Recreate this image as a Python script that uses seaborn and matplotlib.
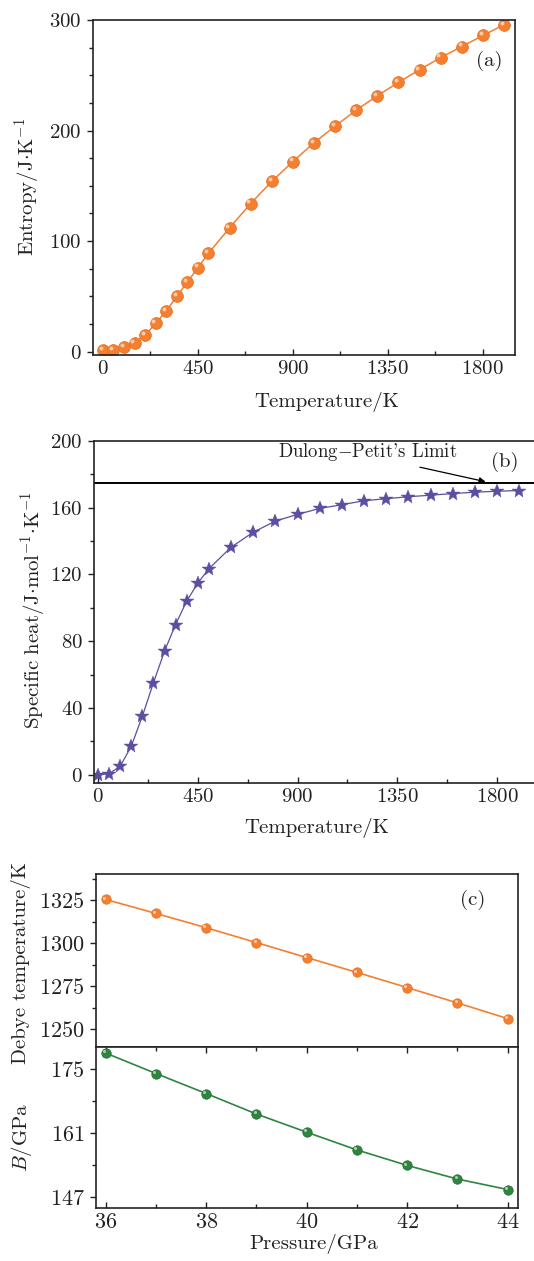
import numpy as np
import matplotlib
matplotlib.use("Agg")
import matplotlib.pyplot as plt
import matplotlib.transforms as mtransforms
from matplotlib.ticker import MultipleLocator
import seaborn as sns

# --- data ---
temp = [0, 50, 100, 150, 200, 250, 300, 350, 400, 450, 500,
        600, 700, 800, 900, 1000, 1100, 1200, 1300, 1400, 1500,
        1600, 1700, 1800, 1900]
entropy = [1.5, 1.5, 4, 8, 15, 25.5, 37, 50, 63, 76, 89,
           112, 134, 154, 172, 189, 204, 218.5, 231.5, 243.6, 255,
           266, 276, 286, 295.7]
cv = [0, 0.6, 5, 17, 35, 55, 74, 90, 104, 114.8, 123.4,
      136.3, 145.3, 152, 156, 159.6, 161.8, 164.2, 165.4, 166.6, 167.5,
      168.5, 169.3, 169.9, 170.3]
dulong_petit = 174.6

pressure = [36, 37, 38, 39, 40, 41, 42, 43, 44]
debye_t = [1325.4, 1317.3, 1309.0, 1300.4, 1291.7, 1283.1, 1274.3, 1265.4, 1256.3]
bulk_mod = [178.6, 174.1, 169.7, 165.2, 161.2, 157.3, 153.9, 150.9, 148.6]

orange = "#F47F30"
purple = "#5A4FA0"
green = "#2E8540"

sns.set_style("ticks")
plt.rcParams["font.family"] = ["cmr10", "DejaVu Serif"]
plt.rcParams["mathtext.fontset"] = "cm"
plt.rcParams["axes.formatter.use_mathtext"] = True
plt.rcParams["axes.unicode_minus"] = False
plt.rcParams["axes.linewidth"] = 1.2
plt.rcParams["text.color"] = "#222222"
plt.rcParams["xtick.color"] = "#222222"
plt.rcParams["ytick.color"] = "#222222"

W, H = 534, 1261
fig = plt.figure(figsize=(W / 100, H / 100), dpi=100)


def box(l, r, t, b):
    return [l / W, 1 - b / H, (r - l) / W, (b - t) / H]


def ftext(x, y, s, **kw):
    fig.text(x / W, 1 - y / H, s, ha="center", va="center", **kw)


def style(ax, fs=15):
    ax.tick_params(which="both", labelsize=fs, width=1.0)
    ax.tick_params(axis="x", which="both", direction="in", top=False)
    ax.tick_params(axis="y", which="both", direction="out", right=False)
    ax.tick_params(which="major", length=4.5)
    ax.tick_params(which="minor", length=3)
    for s in ax.spines.values():
        s.set_visible(True)
        s.set_color("#222222")


def shine(ax, x, y, size, off):
    # small white highlight to mimic the shaded spheres
    tr = mtransforms.offset_copy(ax.transData, fig=fig, x=-off, y=off, units="dots")
    ax.plot(x, y, "o", ms=size, color="white", alpha=0.6, mec="none",
            transform=tr, zorder=5)


# ---------------- (a) entropy ----------------
ax1 = fig.add_axes(box(93, 515, 20, 355))
sns.lineplot(x=temp, y=entropy, ax=ax1, color=orange, lw=1.1,
             marker="o", markersize=8.5, markeredgecolor="#E56E1E",
             markeredgewidth=0.5)
shine(ax1, temp, entropy, 2.8, 2.2)
ax1.set_xlim(-47, 1952)
ax1.set_ylim(-3, 300)
ax1.xaxis.set_major_locator(MultipleLocator(450))
ax1.xaxis.set_minor_locator(MultipleLocator(225))
ax1.yaxis.set_major_locator(MultipleLocator(100))
ax1.yaxis.set_minor_locator(MultipleLocator(25))
style(ax1)
ax1.text(1828, 263, "(a)", fontsize=15, ha="center", va="center")
ftext(327, 402, "Temperature/K", fontsize=15)
ftext(27, 187, r"$\mathrm{Entropy/J{\cdot}K^{-1}}$", fontsize=15, rotation=90)

# ---------------- (b) specific heat ----------------
ax2 = fig.add_axes(box(94, 541.4, 441, 783))
sns.lineplot(x=temp, y=cv, ax=ax2, color=purple, lw=0.9,
             marker="*", markersize=10.5, markeredgecolor=purple,
             markeredgewidth=0.3)
ax2.axhline(dulong_petit, color="black", lw=1.4)
ax2.set_xlim(-18, 2000)
ax2.set_ylim(-5, 200)
ax2.xaxis.set_major_locator(MultipleLocator(450))
ax2.xaxis.set_minor_locator(MultipleLocator(225))
ax2.yaxis.set_major_locator(MultipleLocator(40))
ax2.yaxis.set_minor_locator(MultipleLocator(20))
style(ax2)
ax2.annotate("", xy=(1748, 175.6), xytext=(1452, 184.3),
             arrowprops=dict(arrowstyle="-|>", color="black", lw=0.9,
                             mutation_scale=9, shrinkA=0, shrinkB=0))
ax2.text(1217, 193.4, r"Dulong$-$Petit's Limit", fontsize=13.5,
         ha="center", va="center")
ax2.text(1836, 187.5, "(b)", fontsize=15, ha="center", va="center")
ftext(317, 828, "Temperature/K", fontsize=15)
ftext(33, 610, r"$\mathrm{Specific\ heat/J{\cdot}mol^{-1}{\cdot}K^{-1}}$",
      fontsize=15, rotation=90)

# ---------------- (c) Debye temperature and bulk modulus ----------------
ax3 = fig.add_axes(box(95.7, 517.7, 874.3, 1046.7))
sns.lineplot(x=pressure, y=debye_t, ax=ax3, color=orange, lw=1.2,
             marker="o", markersize=6.8, markeredgecolor="#E56E1E",
             markeredgewidth=0.5)
shine(ax3, pressure, debye_t, 2.2, 1.8)
ax3.set_xlim(35.8, 44.2)
ax3.set_ylim(1240, 1340)
ax3.yaxis.set_major_locator(MultipleLocator(25))
ax3.yaxis.set_minor_locator(MultipleLocator(12.5))
style(ax3, fs=16)
ax3.tick_params(axis="x", which="both", bottom=False, labelbottom=False)
ax3.text(43.3, 1325.4, "(c)", fontsize=15, ha="center", va="center")

ax4 = fig.add_axes(box(95.7, 517.7, 1046.7, 1207.7))
sns.lineplot(x=pressure, y=bulk_mod, ax=ax4, color=green, lw=1.2,
             marker="o", markersize=6.8, markeredgecolor="#236B32",
             markeredgewidth=0.5)
shine(ax4, pressure, bulk_mod, 2.2, 1.8)
ax4.set_xlim(35.8, 44.2)
ax4.set_ylim(144.6, 180)
ax4.xaxis.set_major_locator(MultipleLocator(2))
ax4.xaxis.set_minor_locator(MultipleLocator(1))
ax4.yaxis.set_minor_locator(MultipleLocator(7))
ax4.set_yticks([147, 161, 175])
style(ax4, fs=16)
ax4.tick_params(axis="x", which="both", top=True)
ftext(314, 1244, "Pressure/GPa", fontsize=15)
ftext(21, 963, "Debye temperature/K", fontsize=15, rotation=90)
ftext(21, 1137, r"$B/\mathrm{GPa}$", fontsize=15, rotation=90)

for ax in (ax1, ax2, ax3, ax4):
    ax.set_xlabel("")
    ax.set_ylabel("")

fig.savefig("out.png", dpi=100)
